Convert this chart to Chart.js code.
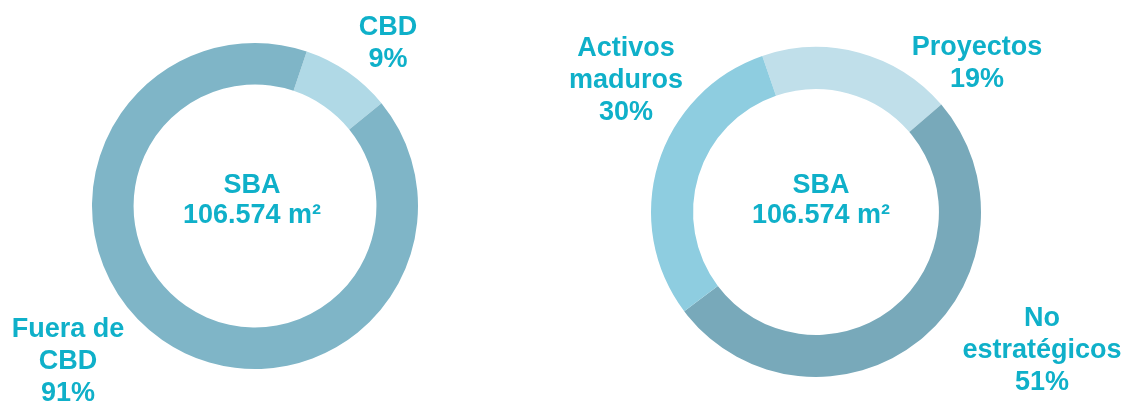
<!DOCTYPE html>
<html>
<head>
<meta charset="utf-8">
<script src="https://cdn.jsdelivr.net/npm/chart.js@4"></script>
<style>
  html, body { margin: 0; padding: 0; background: #fff; }
  .wrap { position: absolute; top: 0; height: 403px; width: 565px; }
</style>
</head>
<body>
<div class="wrap" style="left:0"><canvas id="leftChart"></canvas></div>
<div class="wrap" style="left:565px"><canvas id="rightChart"></canvas></div>
<script>
// data
const leftLabels = [['CBD'], ['Fuera de', 'CBD']];
const leftValues = [9, 91];
const rightLabels = [['Proyectos'], ['No', 'estratégicos'], ['Activos', 'maduros']];
const rightValues = [19, 51, 30];
const centerTitle = 'SBA';
const centerValue = '106.574 m²';

const textColor = '#0fb0c9';
const font = 'bold 27px "Liberation Sans", Arial, sans-serif';

// draws the slice labels and the text in the hole
const donutText = {
  id: 'donutText',
  afterDraw(chart, args, opts) {
    const ctx = chart.ctx;
    const arc = chart.getDatasetMeta(0).data[0];
    const cx = arc.x, cy = arc.y;
    const labels = chart.data.labels;
    const values = chart.data.datasets[0].data;
    ctx.save();
    ctx.font = font;
    ctx.fillStyle = textColor;
    ctx.textAlign = 'center';
    ctx.textBaseline = 'middle';
    labels.forEach(function(lab, i) {
      const lines = lab.concat([values[i] + '%']);
      const p = opts.pos[i];
      const top = cy + p[1] - (lines.length - 1) * 32 / 2;
      lines.forEach(function(t, j) {
        ctx.fillText(t, cx + p[0], top + j * 32);
      });
    });
    ctx.fillText(centerTitle, cx + opts.center[0], cy + opts.center[1] - 15);
    ctx.fillText(centerValue, cx + opts.center[0], cy + opts.center[1] + 15);
    ctx.restore();
  }
};

function makeDonut(id, labels, values, colors, rotation, padding, pos, center) {
  return new Chart(document.getElementById(id), {
    type: 'doughnut',
    data: {
      labels: labels,
      datasets: [{
        data: values,
        backgroundColor: colors,
        borderWidth: 0
      }]
    },
    options: {
      responsive: true,
      maintainAspectRatio: false,
      animation: false,
      cutout: '74.5%',
      rotation: rotation,
      layout: { padding: padding },
      plugins: {
        legend: { display: false },
        tooltip: { enabled: false },
        donutText: { pos: pos, center: center }
      }
    },
    plugins: [donutText]
  });
}

makeDonut('leftChart', leftLabels, leftValues,
  ['#b0d9e6', '#7fb5c7'], 18.5,
  { left: 92, right: 147, top: 43, bottom: 34 },
  [[133, -162], [-187, 156]], [-3, -5]);

makeDonut('rightChart', rightLabels, rightValues,
  ['#c0dfea', '#78a9ba', '#8ecde0'], -19,
  { left: 86, right: 149, top: 47, bottom: 26 },
  [[161, -148], [226, 139], [-190, -131]], [5, -11]);
</script>
</body>
</html>
